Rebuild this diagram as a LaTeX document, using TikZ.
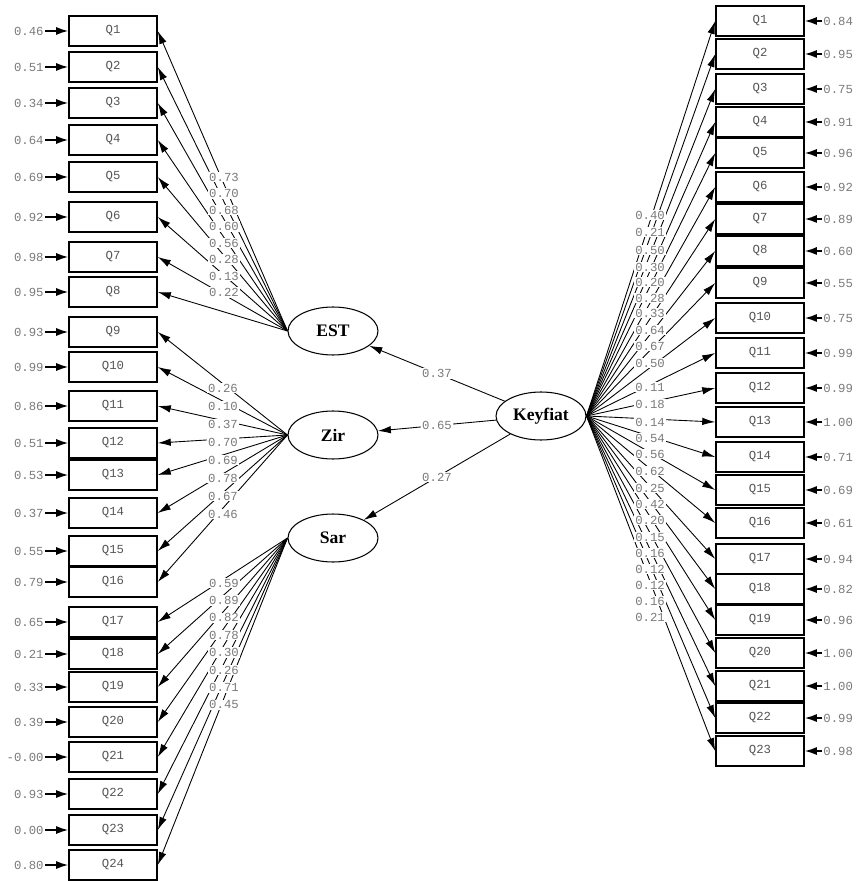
\documentclass[tikz,border=0pt]{standalone}
\usepackage{fontspec}
\setmainfont{Liberation Serif}
\setmonofont{Liberation Mono}
\usepackage{tikz}
\usetikzlibrary{arrows.meta, shapes.geometric}
\definecolor{numgray}{HTML}{7A7A7A}
\definecolor{boxgray}{HTML}{555555}

\tikzset{
  latent/.style={draw, ellipse, line width=0.6pt, minimum width=1.8cm, minimum height=0.96cm,
                 inner sep=0pt, font=\fontsize{10}{12}\selectfont\bfseries},
  item/.style={draw, line width=0.9pt, minimum width=1.76cm, minimum height=0.6cm, inner sep=0pt,
               text=boxgray, font=\ttfamily\fontsize{7}{8}\selectfont},
  num/.style={text=numgray, inner sep=0.6pt, font=\ttfamily\fontsize{7}{8}\selectfont},
  arr/.style={line width=0.5pt, -{Latex[length=2.6mm, width=1.5mm]}},
  errarr/.style={line width=0.9pt, -{Latex[length=2.4mm, width=1.6mm]}},
}

\begin{document}
\begin{tikzpicture}[x=0.02cm, y=-0.02cm]
  \useasboundingbox (0,0) rectangle (861,881);

  % latent variables
  \node[latent] (EST) at (333,331) {EST};
  \node[latent] (Zir) at (333,435) {Zir};
  \node[latent] (Sar) at (333,538) {Sar};
  \node[latent] (Keyfiat) at (541,416) {Keyfiat};

  % left indicators with error variances
  \foreach \n/\y/\e in {1/31/0.46, 2/67/0.51, 3/103/0.34, 4/140/0.64, 5/177/0.69, 6/217/0.92,
                        7/257/0.98, 8/292/0.95, 9/332/0.93, 10/367/0.99, 11/406/0.86, 12/443/0.51,
                        13/475/0.53, 14/513/0.37, 15/551/0.55, 16/582/0.79, 17/622/0.65, 18/654/0.21,
                        19/687/0.33, 20/722/0.39, 21/757/-0.00, 22/794/0.93, 23/830/0.00, 24/865/0.80} {
    \node[item] (L\n) at (113,\y) {Q\n};
    \node[num, anchor=east] (eL\n) at (45,\y) {\e};
    \draw[errarr] (eL\n) -- (L\n);
  }

  % right indicators with error variances
  \foreach \n/\y/\e in {1/21/0.84, 2/54/0.95, 3/89/0.75, 4/122/0.91, 5/153/0.96, 6/187/0.92,
                        7/219/0.89, 8/251/0.60, 9/283/0.55, 10/318/0.75, 11/353/0.99, 12/388/0.99,
                        13/422/1.00, 14/457/0.71, 15/490/0.69, 16/523/0.61, 17/559/0.94, 18/589/0.82,
                        19/620/0.96, 20/653/1.00, 21/686/1.00, 22/718/0.99, 23/751/0.98} {
    \node[item] (R\n) at (760,\y) {Q\n};
    \node[num, anchor=west] (eR\n) at (822,\y) {\e};
    \draw[errarr] (eR\n) -- (R\n);
  }

  % loadings
  \foreach \n in {1,...,8} \draw[arr] (EST.west) -- (L\n.east);
  \foreach \n in {9,...,16} \draw[arr] (Zir.west) -- (L\n.east);
  \foreach \n in {17,...,24} \draw[arr] (Sar.west) -- (L\n.east);
  \foreach \n in {1,...,23} \draw[arr] (Keyfiat.east) -- (R\n.west);

  \foreach \v [count=\i] in {0.73, 0.70, 0.68, 0.60, 0.56, 0.28, 0.13, 0.22}
    \node[num, fill=white] (lE\i) at (224, {177+16.5*(\i-1)}) {\v};
  \foreach \v [count=\i] in {0.26, 0.10, 0.37, 0.70, 0.69, 0.78, 0.67, 0.46}
    \node[num, fill=white] (lZ\i) at (223, {388+18*(\i-1)}) {\v};
  \foreach \v [count=\i] in {0.59, 0.89, 0.82, 0.78, 0.30, 0.26, 0.71, 0.45}
    \node[num, fill=white] (lS\i) at (224, {583+17.4*(\i-1)}) {\v};
  \foreach \v/\y [count=\i] in {0.40/215, 0.21/232, 0.50/250, 0.30/267, 0.20/282, 0.28/298, 0.33/313,
                                0.64/330, 0.67/346, 0.50/363, 0.11/387, 0.18/404, 0.14/422, 0.54/438,
                                0.56/454, 0.62/471, 0.25/488, 0.42/504, 0.20/520, 0.15/537, 0.16/553,
                                0.12/569, 0.12/585, 0.16/601, 0.21/617}
    \node[num, fill=white] (lK\i) at (650,\y) {\v};

  % structural paths
  \draw[arr] (Keyfiat) -- node[num, fill=white] (pE) {0.37} (EST);
  \draw[arr] (Keyfiat) -- node[num, fill=white] (pZ) {0.65} (Zir);
  \draw[arr] (Keyfiat) -- node[num, fill=white] (pS) {0.27} (Sar);
\end{tikzpicture}
\end{document}
